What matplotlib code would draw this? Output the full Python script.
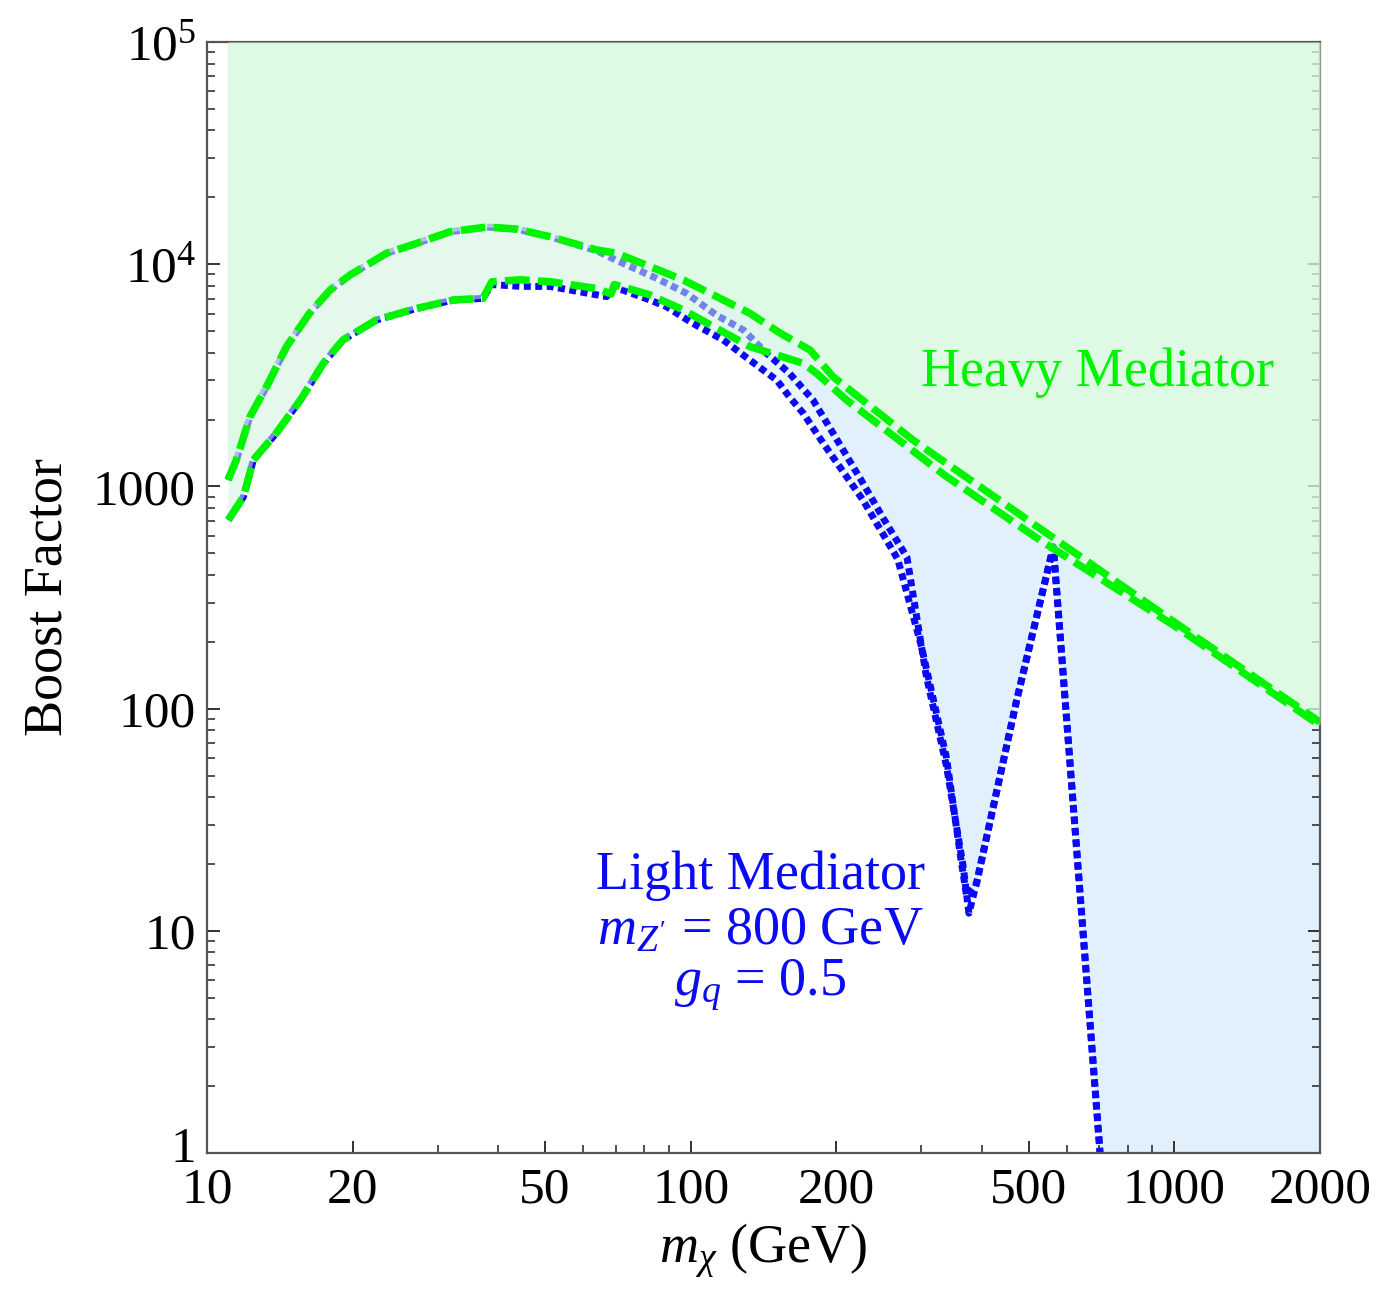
import numpy as np
import matplotlib
matplotlib.use('Agg')
import matplotlib.pyplot as plt
import matplotlib.transforms as mtransforms
from matplotlib.ticker import FixedLocator, FixedFormatter, NullFormatter

### Fonts
plt.rcParams['font.family'] = ['Liberation Serif', 'DejaVu Serif']
plt.rcParams['mathtext.fontset'] = 'custom'
plt.rcParams['mathtext.rm'] = 'Liberation Serif'
plt.rcParams['mathtext.it'] = 'Liberation Serif:italic'

### Data
# heavy mediator, upper edge
heavy_hi_x = [11.05, 11.5, 12.27, 13.28, 14.6, 16.3, 17.96, 19.75, 23.5, 27.1, 31.8, 37.9,
              43.6, 51.2, 63.9, 70.3, 96.6, 132.6, 153, 176.5, 196.8, 288, 545, 1000, 2000]
heavy_hi_y = [1069, 1315, 2061, 2810, 4256, 6026, 7650, 8935, 11200, 12400, 14000, 14700,
              14400, 13300, 11600, 11200, 8490, 6010, 4900, 4110, 3120, 1618, 615, 245, 87]

# heavy mediator, lower edge
heavy_lo_x = [11.07, 11.9, 12.47, 13.9, 15.6, 17.4, 19.1, 22.4, 27.1, 32.3, 37.2, 38.8,
              44.4, 51.2, 63.9, 68.5, 69.5, 82, 96.6, 132.6, 171, 182, 210, 338, 527, 1000, 2000]
heavy_lo_y = [706, 899, 1315, 1734, 2449, 3580, 4560, 5610, 6320, 6900, 7020, 8340,
              8510, 8340, 7780, 7350, 8100, 7300, 6220, 4256, 3580, 3230, 2449, 1107, 574, 236, 84]

# light mediator, upper edge
light_hi_x = [11.05, 11.5, 12.27, 13.28, 14.6, 16.3, 17.96, 19.75, 23.5, 27.1, 31.8, 37.9,
              43.6, 51.2, 63.9, 70.3, 85.1, 98, 113, 128.5, 143.6, 160, 179, 197, 225, 250,
              280, 307, 338, 366, 376, 390, 472, 562, 702, 760, 2000]
light_hi_y = [1069, 1315, 2061, 2810, 4256, 6026, 7650, 8935, 11200, 12400, 14000, 14700,
              14400, 13300, 11500, 10400, 8630, 7400, 5900, 5060, 3970, 3230, 2449, 1734, 1070, 720,
              480, 140, 55, 19.4, 12.0, 16.4, 109, 535, 1.0, 0.1, 0.1]

# light mediator, lower edge
light_lo_x = [11.07, 11.9, 12.47, 13.9, 15.6, 17.4, 19.1, 22.4, 27.1, 32.3, 37.2, 38.8,
              44.4, 51.2, 67, 69.5, 82.4, 89.1, 101, 116.8, 132.6, 150.6, 160, 171, 188, 227,
              268, 300, 338, 362, 372, 390, 472, 562, 702, 760, 2000]
light_lo_y = [706, 899, 1315, 1734, 2449, 3580, 4560, 5610, 6320, 6900, 7020, 8100,
              7950, 7940, 7150, 7900, 6900, 6440, 5420, 4560, 3700, 3010, 2530, 2130, 1563, 869,
              470, 190, 60, 21, 14.3, 16.4, 109, 535, 1.0, 0.1, 0.1]

x_ticks       = [10, 20, 50, 100, 200, 500, 1000, 2000]
x_tick_labels = ['10', '20', '50', '100', '200', '500', '1000', '2000']
y_ticks       = [1, 10, 100, 1000, 1e4, 1e5]
y_tick_labels = ['1', '10', '100', '1000', r'$10^4$', r'$10^5$']

x_min, x_max = 10, 2000
y_min, y_max = 1, 1e5

### Colours
green      = '#00f400'
blue       = '#0a0af5'
green_fill = '#defdde'
blue_fill  = '#d9ecfb'

### Plot
fig = plt.figure(figsize=(13.78, 12.89), dpi=100)
ax = fig.add_axes([0.1502, 0.1055, 0.8077, 0.8619])
ax.set_xscale('log')
ax.set_yscale('log')
ax.set_xlim(x_min, x_max)
ax.set_ylim(y_min, y_max)

# fills up to the top of the plot
for xs, ys in [(light_hi_x, light_hi_y), (light_lo_x, light_lo_y)]:
    ax.fill_between(xs, ys, y_max, color=blue_fill, alpha=0.5, lw=0, zorder=1)

# light mediator lines (dotted)
for xs, ys in [(light_hi_x, light_hi_y), (light_lo_x, light_lo_y)]:
    ax.plot(xs, ys, color=blue, lw=5.0, linestyle=(0, (1.0, 0.65)),
            dash_capstyle='butt', zorder=2)

for xs, ys in [(heavy_hi_x, heavy_hi_y), (heavy_lo_x, heavy_lo_y)]:
    ax.fill_between(xs, ys, y_max, color=green_fill, alpha=0.5, lw=0, zorder=3)

# heavy mediator lines (dashed)
for xs, ys in [(heavy_hi_x, heavy_hi_y), (heavy_lo_x, heavy_lo_y)]:
    ax.plot(xs, ys, color=green, lw=5.4, linestyle=(0, (3.3, 1.1)),
            dash_capstyle='butt', zorder=4)

# ticks
ax.xaxis.set_major_locator(FixedLocator(x_ticks))
ax.xaxis.set_major_formatter(FixedFormatter(x_tick_labels))
ax.xaxis.set_minor_formatter(NullFormatter())
ax.yaxis.set_major_locator(FixedLocator(y_ticks))
ax.yaxis.set_major_formatter(FixedFormatter(y_tick_labels))
ax.yaxis.set_minor_formatter(NullFormatter())

ax.tick_params(which='both', direction='in', top=False, right=True, color='#222222')
ax.tick_params(which='major', length=9, width=1.3, labelsize=37, pad=8)
ax.tick_params(axis='x', which='major', pad=10)
ax.tick_params(which='minor', length=6, width=1.1)
for sp in ax.spines.values():
    sp.set_color('#555555')
    sp.set_linewidth(1.6)

# nudge the bottom "1" label up a little so it clears the x labels
fig.canvas.draw()
first_label = ax.get_yticklabels()[0]
first_label.set_transform(first_label.get_transform() +
                          mtransforms.ScaledTranslation(0, 6 / 72, fig.dpi_scale_trans))

ax.set_xlabel(r'$m_\chi$ (GeV)', fontsize=39, labelpad=6)
ax.set_ylabel('Boost Factor', fontsize=39, labelpad=14)

# annotations
ax.text(0.80, 0.702, 'Heavy Mediator', color=green, fontsize=39,
        ha='center', va='center', transform=ax.transAxes, zorder=5)
ax.text(0.497, 0.250, 'Light Mediator', color=blue, fontsize=39,
        ha='center', va='center', transform=ax.transAxes, zorder=5)
ax.text(0.497, 0.200, r"$m_{Z'}$ = 800 GeV", color=blue, fontsize=39,
        ha='center', va='center', transform=ax.transAxes, zorder=5)
ax.text(0.497, 0.151, r'$g_q$ = 0.5', color=blue, fontsize=39,
        ha='center', va='center', transform=ax.transAxes, zorder=5)

plt.savefig('out.png', dpi=100)
